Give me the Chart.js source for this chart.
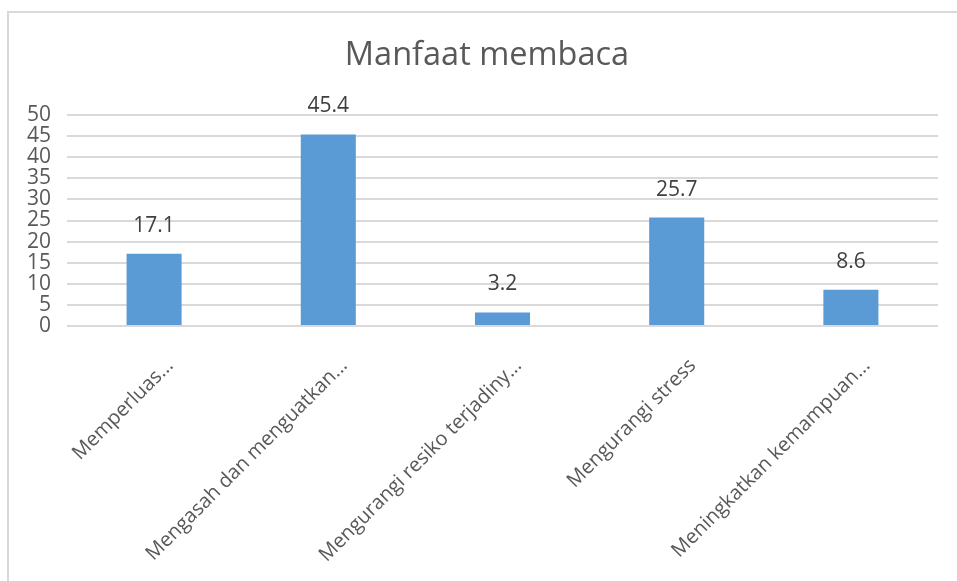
<!DOCTYPE html>
<html>
<head>
<meta charset="utf-8">
<script src="https://cdn.jsdelivr.net/npm/chart.js@4.4.1/dist/chart.umd.min.js"></script>
<style>
    html, body { margin: 0; padding: 0; background: #ffffff; overflow: hidden; }
    #wrap { position: relative; width: 957px; height: 581px; }
    #frame {
        position: absolute; left: 7px; top: 11px; width: 960px; height: 600px;
        border: 2px solid #d9d9d9; box-sizing: border-box;
    }
    #chart { position: absolute; left: 0; top: 0; }
</style>
</head>
<body>
<div id="wrap">
    <div id="frame"></div>
    <canvas id="chart" width="957" height="581"></canvas>
</div>
<script>
////////////////////////////////////////////////////////////////////////
// Data
const chartTitle = "Manfaat membaca"
const categories = [
    "Memperluas...",
    "Mengasah dan menguatkan...",
    "Mengurangi resiko terjadiny...",
    "Mengurangi stress",
    "Meningkatkan kemampuan..."
]
const values = [17.1, 45.4, 3.2, 25.7, 8.6]
const yTicks = { min: 0, max: 50, step: 5 }

const fontFamily = "'Open Sans', sans-serif"

/**
 * Draws the value above each bar and the chart title.
 */
const valueLabels = {
    id: 'valueLabels',
    afterDatasetsDraw(chart) {
        const ctx = chart.ctx
        const meta = chart.getDatasetMeta(0)
        ctx.save()
        ctx.font = "21px " + fontFamily
        ctx.fillStyle = "#404040"
        ctx.textAlign = "center"
        ctx.textBaseline = "middle"
        meta.data.forEach((bar, i) => {
            ctx.fillText(String(values[i]), bar.x, bar.y - 28)
        })
        // title, centred on the framed box rather than the canvas
        ctx.font = "32.5px " + fontFamily
        ctx.fillStyle = "#595959"
        ctx.fillText(chartTitle, 487, 56)
        ctx.restore()
    }
}

new Chart(document.getElementById('chart'), {
    type: 'bar',
    data: {
        labels: categories,
        datasets: [{
            data: values,
            backgroundColor: "#5b9bd5",
            categoryPercentage: 1.0,
            barPercentage: 0.316
        }]
    },
    options: {
        responsive: false,
        animation: false,
        layout: {
            padding: { left: 0, right: 19, top: 115, bottom: 0 }
        },
        plugins: {
            legend: { display: false },
            tooltip: { enabled: false },
            title: { display: false }
        },
        scales: {
            x: {
                grid: { display: false },
                border: { display: false },
                afterFit(scale) { scale.height = 255 },
                ticks: {
                    color: "#595959",
                    font: { family: fontFamily, size: 20 },
                    minRotation: 45,
                    maxRotation: 45,
                    autoSkip: false,
                    labelOffset: 16,
                    padding: 20
                }
            },
            y: {
                min: yTicks.min,
                max: yTicks.max,
                afterFit(scale) { scale.width = 67 },
                grid: { color: "#d9d9d9", lineWidth: 2, drawTicks: false },
                border: { display: false },
                ticks: {
                    stepSize: yTicks.step,
                    autoSkip: false,
                    color: "#595959",
                    font: { family: fontFamily, size: 21 },
                    padding: 16
                }
            }
        }
    },
    plugins: [valueLabels]
})
</script>
</body>
</html>
